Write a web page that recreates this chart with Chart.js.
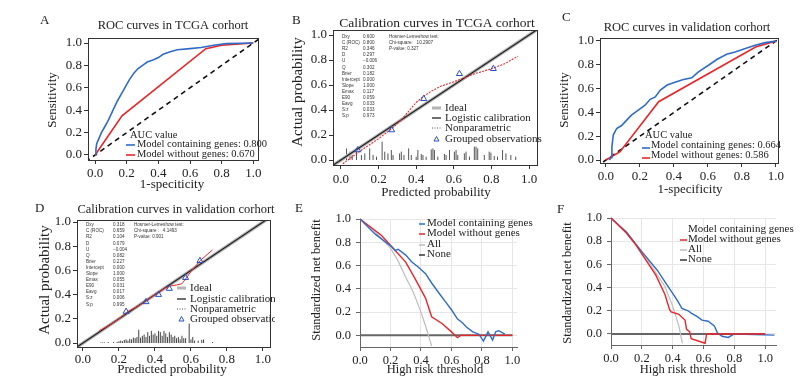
<!DOCTYPE html>
<html>
<head>
<meta charset="utf-8">
<script src="https://cdn.jsdelivr.net/npm/chart.js"></script>
<style>
  body { margin: 0; background: #fff; }
  #wrap { position: relative; width: 804px; height: 391px; background: #fff; overflow: hidden; }
  #wrap canvas { position: absolute; }
</style>
</head>
<body>
<div id="wrap"></div>
<script>
// ---- data ----
const unitTicks = [0, 0.2, 0.4, 0.6, 0.8, 1.0];
const diagLine = [-0.06, 1.06];

// A: ROC in TCGA
const aGenesX = [0, 0.005, 0.01, 0.025, 0.04, 0.06, 0.08, 0.1, 0.12, 0.14, 0.16, 0.18, 0.2, 0.22, 0.245, 0.27, 0.3, 0.33, 0.37, 0.4, 0.43, 0.47, 0.52, 0.6, 0.67, 0.75, 0.83, 1];
const aGenesY = [0, 0.05, 0.1, 0.15, 0.2, 0.25, 0.3, 0.36, 0.42, 0.48, 0.53, 0.58, 0.63, 0.68, 0.73, 0.77, 0.8, 0.83, 0.85, 0.87, 0.9, 0.92, 0.94, 0.95, 0.96, 0.98, 0.995, 1];
const aBaseX = [0, 0.17, 0.7, 0.8, 1];
const aBaseY = [0, 0.35, 0.95, 0.98, 1];

// C: ROC in validation
const cGenesX = [0.02, 0.03, 0.035, 0.043, 0.063, 0.092, 0.122, 0.15, 0.19, 0.23, 0.26, 0.29, 0.32, 0.36, 0.41, 0.456, 0.505, 0.544, 0.603, 0.652, 0.71, 0.76, 0.82, 0.878, 0.937, 1];
const cGenesY = [0, 0.02, 0.11, 0.21, 0.265, 0.29, 0.335, 0.377, 0.42, 0.46, 0.51, 0.53, 0.587, 0.63, 0.656, 0.676, 0.69, 0.74, 0.796, 0.844, 0.888, 0.908, 0.936, 0.964, 0.986, 1];
const cBaseX = [0, 0.083, 0.31, 0.88, 1];
const cBaseY = [0, 0.07, 0.49, 0.95, 1];

// B: calibration in TCGA
const bSmoothX = [0.01, 0.1, 0.2, 0.27, 0.32, 0.36, 0.4, 0.44, 0.48, 0.53, 0.59, 0.66, 0.71, 0.8, 0.87, 0.94];
const bSmoothY = [-0.03, 0.07, 0.17, 0.25, 0.32, 0.39, 0.46, 0.51, 0.55, 0.59, 0.62, 0.66, 0.69, 0.73, 0.77, 0.83];
const bGroupX = [0.09, 0.27, 0.44, 0.63, 0.81];
const bGroupY = [0.08, 0.24, 0.49, 0.69, 0.73];
const bRugX = [0.03, 0.048, 0.06, 0.083, 0.109, 0.127, 0.153, 0.171, 0.189, 0.219, 0.233, 0.25, 0.268, 0.277, 0.312, 0.321, 0.335, 0.36, 0.374, 0.4, 0.409, 0.427, 0.436, 0.453, 0.48, 0.489, 0.497, 0.515, 0.55, 0.559, 0.577, 0.603, 0.612, 0.621, 0.656, 0.665, 0.683, 0.709, 0.718, 0.727, 0.762, 0.788, 0.797, 0.815, 0.832, 0.859, 0.877, 0.903, 0.929];
const bRugH = [0.093, 0.067, 0.04, 0.08, 0.04, 0.053, 0.093, 0.04, 0.027, 0.147, 0.067, 0.053, 0.08, 0.04, 0.053, 0.067, 0.04, 0.093, 0.04, 0.027, 0.08, 0.048, 0.04, 0.027, 0.085, 0.093, 0.08, 0.027, 0.048, 0.04, 0.08, 0.067, 0.08, 0.04, 0.053, 0.067, 0.027, 0.107, 0.107, 0.093, 0.04, 0.067, 0.059, 0.032, 0.027, 0.08, 0.053, 0.04, 0.027];
const statNames = ['Dxy', 'C (ROC)', 'R2', 'D', 'U', 'Q', 'Brier', 'Intercept', 'Slope', 'Emax', 'E90', 'Eavg', 'S:z', 'S:p'];
const bStatVals = ['0.600', '0.800', '0.346', '0.297', '\u22120.006', '0.302', '0.182', '0.000', '1.000', '0.117', '0.059', '0.033', '0.033', '0.973'];
const bHosmer = ['Hosmer-Lemeshow test:', 'Chi-square:   10.2907', 'P-value: 0.327'];

// D: calibration in validation
const dSmoothX = [0.09, 0.15, 0.2, 0.25, 0.3, 0.35, 0.4, 0.45, 0.48, 0.52, 0.55, 0.57, 0.6, 0.65, 0.72];
const dSmoothY = [0.1, 0.15, 0.2, 0.26, 0.3, 0.35, 0.4, 0.45, 0.47, 0.48, 0.49, 0.53, 0.59, 0.68, 0.77];
const dGroupX = [0.24, 0.35, 0.42, 0.48, 0.57, 0.65];
const dGroupY = [0.26, 0.34, 0.40, 0.45, 0.54, 0.68];
const dRugX = [0.10, 0.11, 0.12, 0.14, 0.17, 0.19, 0.2, 0.21, 0.22, 0.23, 0.24, 0.25, 0.26, 0.27, 0.28, 0.29, 0.30, 0.31, 0.32, 0.33, 0.34, 0.35, 0.36, 0.37, 0.38, 0.39, 0.40, 0.41, 0.42, 0.43, 0.44, 0.45, 0.46, 0.47, 0.48, 0.49, 0.50, 0.51, 0.52, 0.53, 0.54, 0.55, 0.56, 0.57, 0.59, 0.6, 0.61, 0.62, 0.64, 0.66, 0.67, 0.72];
const dRugH = [0.005, 0.005, 0.005, 0.008, 0.008, 0.01, 0.015, 0.02, 0.015, 0.025, 0.03, 0.02, 0.035, 0.03, 0.045, 0.04, 0.05, 0.11, 0.045, 0.06, 0.07, 0.05, 0.09, 0.06, 0.1, 0.07, 0.08, 0.06, 0.1, 0.09, 0.06, 0.1, 0.08, 0.05, 0.09, 0.07, 0.05, 0.06, 0.04, 0.05, 0.03, 0.06, 0.04, 0.04, 0.16, 0.03, 0.05, 0.02, 0.02, 0.025, 0.03, 0.008];
const dStatVals = ['0.318', '0.659', '0.104', '0.079', '\u22120.004', '0.082', '0.227', '0.000', '1.000', '0.055', '0.031', '0.017', '0.006', '0.995'];
const dHosmer = ['Hosmer-Lemeshow test:', 'Chi-square :   4.1493', 'P-value: 0.901'];

// E: decision curves in TCGA
const eGenesX = [0, 0.1, 0.21, 0.23, 0.25, 0.3, 0.34, 0.38, 0.43, 0.47, 0.52, 0.56, 0.6, 0.64, 0.67, 0.7, 0.74, 0.78, 0.81, 0.84, 0.87, 0.89, 0.91, 0.95];
const eGenesY = [1, 0.87, 0.76, 0.73, 0.74, 0.69, 0.63, 0.59, 0.53, 0.45, 0.36, 0.29, 0.22, 0.14, 0.11, 0.07, 0.03, 0.01, -0.05, 0.03, -0.04, 0.03, 0.04, 0.01];
const eBaseX = [0, 0.14, 0.21, 0.3, 0.36, 0.43, 0.47, 0.54, 0.6, 0.64, 0.66, 1.0];
const eBaseY = [1, 0.86, 0.76, 0.63, 0.49, 0.32, 0.16, 0.1, 0.03, -0.02, 0, 0];
const eAllX = [0, 0.1, 0.2, 0.25, 0.3, 0.35, 0.4, 0.43, 0.47];
const eAllY = [1, 0.89, 0.75, 0.64, 0.5, 0.37, 0.2, 0.08, -0.09];
const noneX = [0, 1.0];
const noneY = [0, 0];

// F: decision curves in validation
const fGenesX = [0, 0.1, 0.2, 0.3, 0.35, 0.4, 0.43, 0.46, 0.5, 0.52, 0.56, 0.59, 0.63, 0.67, 0.69, 0.72, 0.76, 0.8, 1.06];
const fGenesY = [1, 0.88, 0.71, 0.55, 0.45, 0.35, 0.29, 0.22, 0.2, 0.18, 0.15, 0.12, 0.11, 0.07, 0.01, -0.02, -0.03, 0, -0.01];
const fBaseX = [0, 0.1, 0.16, 0.22, 0.29, 0.35, 0.38, 0.39, 0.44, 0.48, 0.49, 0.51, 0.52, 0.61, 0.62, 1.0];
const fBaseY = [1, 0.87, 0.77, 0.65, 0.51, 0.34, 0.21, 0.19, 0.17, 0.12, 0.04, 0.02, -0.04, -0.08, 0, 0];
const fAllX = [0, 0.1, 0.22, 0.35, 0.4, 0.44, 0.463];
const fAllY = [1, 0.87, 0.67, 0.41, 0.24, 0.07, -0.08];

// ---- styles ----
const BLUE = '#2f6cc8';
const RED = '#e8262a';
const TRI = '#2a4fc4';
const INK = '#222';
const SERIF = '"Liberation Serif", "DejaVu Serif", serif';
const SANS = '"Liberation Sans Narrow", "Liberation Sans", Arial, sans-serif';

Chart.defaults.font.family = SERIF;
Chart.defaults.color = INK;

function pts(xs, ys) {
    return xs.map((x, i) => ({ x: x, y: ys[i] }));
}

function line(xs, ys, color, width, dash, order) {
    return {
        data: pts(xs, ys), showLine: true, borderColor: color, borderWidth: width,
        borderDash: dash || [], pointRadius: 0, tension: 0, order: order || 0, clip: false
    };
}

function spikes(xs, hs, color) {
    const data = [];
    for (let i = 0; i < xs.length; i++) {
        data.push({ x: xs[i], y: 0 });
        data.push({ x: xs[i], y: hs[i] });
        data.push({ x: xs[i], y: null });
    }
    return { data: data, showLine: true, spanGaps: false, borderColor: color, borderWidth: 1, pointRadius: 0, order: 5 };
}

function triangles(xs, ys) {
    return {
        data: pts(xs, ys), showLine: false, pointStyle: 'triangle', pointRadius: 3.5,
        borderColor: TRI, backgroundColor: 'rgba(0,0,0,0)', borderWidth: 1, order: 0
    };
}

// draws panel letters, titles, axis titles, legends and stats text
const textPlugin = {
    id: 'texts',
    afterDraw(chart) {
        const items = chart.options.plugins.texts.items || [];
        const ox = chart.options.plugins.texts.ox;
        const oy = chart.options.plugins.texts.oy;
        const ctx = chart.ctx;
        ctx.save();
        items.forEach(it => {
            const x = it.x - ox, y = it.y - oy;
            if (it.kind === 'line') {
                ctx.beginPath();
                ctx.strokeStyle = it.color;
                ctx.lineWidth = it.w || 1.5;
                ctx.setLineDash(it.dash || []);
                ctx.moveTo(x, y);
                ctx.lineTo(it.x2 - ox, y);
                ctx.stroke();
                ctx.setLineDash([]);
                return;
            }
            if (it.kind === 'tri') {
                ctx.beginPath();
                ctx.strokeStyle = TRI;
                ctx.lineWidth = 1;
                ctx.moveTo(x, y - 2.5);
                ctx.lineTo(x + 2.5, y + 2);
                ctx.lineTo(x - 2.5, y + 2);
                ctx.closePath();
                ctx.stroke();
                return;
            }
            ctx.save();
            ctx.fillStyle = it.color || INK;
            ctx.font = (it.size || 12) + 'px ' + (it.fam || SERIF);
            ctx.textAlign = it.align || 'left';
            ctx.textBaseline = 'middle';
            ctx.translate(x, y);
            if (it.rot) ctx.rotate(-Math.PI / 2);
            ctx.fillText(it.t, 0, 0);
            ctx.restore();
        });
        ctx.restore();
    }
};

const framePlugin = {
    id: 'frame',
    afterDatasetsDraw(chart) {
        if (!chart.options.plugins.frame.on) return;
        const a = chart.chartArea, ctx = chart.ctx;
        ctx.save();
        ctx.strokeStyle = '#333';
        ctx.lineWidth = 1;
        ctx.strokeRect(Math.round(a.left) + 0.5, Math.round(a.top) + 0.5, Math.round(a.right - a.left), Math.round(a.bottom - a.top));
        ctx.restore();
    }
};

const wrap = document.getElementById('wrap');

function makePanel(cfg) {
    const [bx, by, bw, bh] = cfg.box;
    const [al, at, ar, ab] = cfg.area;
    const canvas = document.createElement('canvas');
    canvas.width = bw;
    canvas.height = bh;
    canvas.style.left = bx + 'px';
    canvas.style.top = by + 'px';
    wrap.appendChild(canvas);

    const dca = !!cfg.dca;
    const tickFont = { family: SERIF, size: cfg.tickSize || 13 };
    const axisCommon = {
        type: 'linear',
        border: { display: true, color: dca ? '#666' : '#333', width: 1 },
        grid: {
            display: true, drawOnChartArea: dca, color: '#e6e6e6',
            drawTicks: true, tickLength: 4, tickColor: dca ? '#666' : '#333'
        }
    };

    new Chart(canvas, {
        type: 'scatter',
        data: { datasets: cfg.datasets },
        options: {
            responsive: false,
            animation: false,
            devicePixelRatio: 1,
            layout: { padding: { top: at - by, right: bx + bw - ar, left: 0, bottom: 0 } },
            plugins: {
                legend: { display: false },
                tooltip: { enabled: false },
                frame: { on: !dca },
                texts: { items: cfg.texts, ox: bx, oy: by }
            },
            scales: {
                x: Object.assign({}, axisCommon, {
                    min: cfg.xr[0], max: cfg.xr[1],
                    afterFit: s => { s.height = by + bh - ab; },
                    afterBuildTicks: s => { s.ticks = unitTicks.map(v => ({ value: v })); },
                    ticks: { font: tickFont, color: INK, padding: cfg.xPad, maxRotation: 0, autoSkip: false, callback: v => v.toFixed(1) }
                }),
                y: Object.assign({}, axisCommon, {
                    min: cfg.yr[0], max: cfg.yr[1],
                    afterFit: s => { s.width = al - bx; },
                    afterBuildTicks: s => { s.ticks = unitTicks.map(v => ({ value: v })); },
                    ticks: { font: tickFont, color: INK, padding: cfg.yPad, autoSkip: false, callback: v => v.toFixed(1) }
                })
            }
        },
        plugins: [framePlugin, textPlugin]
    });
}

function statsTexts(x0, x1, x2, y0, dy, vals, hosmer) {
    const out = [];
    statNames.forEach((n, i) => {
        out.push({ t: n, x: x0, y: y0 + i * dy, size: 4.6, fam: SANS, color: '#333' });
        out.push({ t: vals[i], x: x1, y: y0 + i * dy, size: 4.6, fam: SANS, color: '#333' });
    });
    hosmer.forEach((h, i) => {
        out.push({ t: h, x: x2, y: y0 + i * dy, size: 4.6, fam: SANS, color: '#333' });
    });
    return out;
}

function calLegend(sx, tx, ys) {
    return [
        { kind: 'line', x: sx, x2: sx + 9, y: ys[0], color: '#b5b5b5', w: 3 },
        { t: 'Ideal', x: tx, y: ys[0], size: 11 },
        { kind: 'line', x: sx, x2: sx + 9, y: ys[1], color: '#222', w: 1.3 },
        { t: 'Logistic calibration', x: tx, y: ys[1], size: 11 },
        { kind: 'line', x: sx, x2: sx + 9, y: ys[2], color: '#555', w: 1, dash: [1, 1.5] },
        { t: 'Nonparametric', x: tx, y: ys[2], size: 11 },
        { kind: 'tri', x: sx + 4.5, y: ys[3] },
        { t: 'Grouped observations', x: tx, y: ys[3], size: 11 }
    ];
}

// ---- A ----
makePanel({
    box: [0, 0, 268, 200], area: [88, 38, 258, 160],
    xr: [-0.045, 1.03], yr: [-0.045, 1.045], xPad: 2, yPad: 2,
    datasets: [
        line(aGenesX, aGenesY, BLUE, 1.6, null, 1),
        line(aBaseX, aBaseY, RED, 1.6, null, 2),
        Object.assign(line(diagLine, diagLine, '#111', 1.6, [5, 4], 3), { clip: 0 })
    ],
    texts: [
        { t: 'A', x: 40, y: 21, size: 13 },
        { t: 'ROC curves in TCGA corhort', x: 173, y: 26, size: 12.5, align: 'center' },
        { t: 'Sensitivity', x: 53, y: 100, size: 13, align: 'center', rot: true },
        { t: '1-speciticity', x: 172, y: 185, size: 13, align: 'center' },
        { t: 'AUC value', x: 130, y: 135, size: 10.5 },
        { kind: 'line', x: 126, x2: 135, y: 145, color: BLUE, w: 1.6 },
        { t: 'Model containing genes: 0.800', x: 137, y: 144, size: 10.5 },
        { kind: 'line', x: 126, x2: 135, y: 155, color: RED, w: 1.6 },
        { t: 'Model without genes: 0.670', x: 137, y: 154, size: 10.5 }
    ]
});

// ---- B ----
makePanel({
    box: [268, 0, 274, 200], area: [333, 30, 538, 165],
    xr: [-0.042, 1.042], yr: [-0.04, 1.04], xPad: 3, yPad: 2,
    datasets: [
        triangles(bGroupX, bGroupY),
        line(bSmoothX, bSmoothY, RED, 1.1, [2, 1.2], 1),
        Object.assign(line(diagLine, diagLine, '#222', 1.2, null, 2), { clip: 0 }),
        Object.assign(line(diagLine, diagLine, '#b5b5b5', 3.5, null, 3), { clip: 0 }),
        spikes(bRugX, bRugH, '#555')
    ],
    texts: [
        { t: 'B', x: 292, y: 21, size: 13 },
        { t: 'Calibration curves in TCGA corhort', x: 437, y: 23, size: 13.5, align: 'center' },
        { t: 'Actual probability', x: 298, y: 92, size: 15, align: 'center', rot: true },
        { t: 'Predicted probability', x: 436, y: 193, size: 13, align: 'center' }
    ].concat(statsTexts(342, 363, 389, 37, 6.05, bStatVals, bHosmer), calLegend(432, 445, [108, 118, 128, 139]))
});

// ---- C ----
makePanel({
    box: [540, 0, 264, 200], area: [600, 38, 778, 163],
    xr: [-0.035, 1.012], yr: [-0.025, 1.025], xPad: 2, yPad: 2,
    datasets: [
        line(cGenesX, cGenesY, BLUE, 1.6, null, 1),
        line(cBaseX, cBaseY, RED, 1.6, null, 2),
        Object.assign(line(diagLine, diagLine, '#111', 1.6, [5, 4], 3), { clip: 0 })
    ],
    texts: [
        { t: 'C', x: 562, y: 18, size: 13 },
        { t: 'ROC curves in validation corhort', x: 687, y: 28, size: 12.5, align: 'center' },
        { t: 'Sensitivity', x: 565, y: 100, size: 13, align: 'center', rot: true },
        { t: '1-specificity', x: 690, y: 190, size: 13, align: 'center' },
        { t: 'AUC value', x: 645, y: 135, size: 10.5 },
        { kind: 'line', x: 642, x2: 650, y: 148, color: BLUE, w: 1.6 },
        { t: 'Model containing genes: 0.664', x: 651, y: 145, size: 10.5 },
        { kind: 'line', x: 642, x2: 650, y: 158, color: RED, w: 1.6 },
        { t: 'Model without genes: 0.586', x: 651, y: 155, size: 10.5 }
    ]
});

// ---- D ----
makePanel({
    box: [0, 195, 275, 196], area: [77, 220, 270, 347],
    xr: [-0.033, 1.039], yr: [-0.033, 1.017], xPad: 1, yPad: 2,
    datasets: [
        triangles(dGroupX, dGroupY),
        line(dSmoothX, dSmoothY, RED, 1, null, 1),
        Object.assign(line(diagLine, diagLine, '#222', 1.2, null, 2), { clip: 0 }),
        Object.assign(line(diagLine, diagLine, '#b5b5b5', 3.5, null, 3), { clip: 0 }),
        spikes(dRugX, dRugH, '#444')
    ],
    texts: [
        { t: 'D', x: 35, y: 209, size: 13 },
        { t: 'Calibration curves in validation corhort', x: 176, y: 210, size: 12.5, align: 'center' },
        { t: 'Actual probability', x: 45, y: 280, size: 15, align: 'center', rot: true },
        { t: 'Predicted probability', x: 172, y: 370, size: 13, align: 'center' }
    ].concat(statsTexts(86, 113, 134, 225, 6.1, dStatVals, dHosmer), calLegend(177, 190, [288, 299, 309, 319]))
});

// ---- E ----
makePanel({
    dca: true, tickSize: 12.5,
    box: [275, 195, 265, 196], area: [360, 219, 517, 347],
    xr: [0, 1.03], yr: [-0.1, 1.0], xPad: 2, yPad: 5,
    datasets: [
        line(eGenesX, eGenesY, BLUE, 1.4, null, 1),
        line(eBaseX, eBaseY, RED, 1.4, null, 2),
        line(eAllX, eAllY, '#bdbdbd', 1.2, null, 3),
        line(noneX, noneY, '#666', 2, null, 4)
    ],
    texts: [
        { t: 'E', x: 295, y: 209, size: 13 },
        { t: 'Standardized net benefit', x: 317, y: 280, size: 12.5, align: 'center', rot: true },
        { t: 'High risk threshold', x: 435, y: 370, size: 12.5, align: 'center' },
        { kind: 'line', x: 419, x2: 425, y: 224, color: BLUE, w: 1.5 },
        { t: 'Model containing genes', x: 427, y: 223, size: 11 },
        { kind: 'line', x: 419, x2: 425, y: 234, color: RED, w: 1.5 },
        { t: 'Model without genes', x: 427, y: 233, size: 11 },
        { kind: 'line', x: 419, x2: 425, y: 245, color: '#bdbdbd', w: 1.5 },
        { t: 'All', x: 427, y: 244, size: 11 },
        { kind: 'line', x: 419, x2: 425, y: 255, color: '#333', w: 1.5 },
        { t: 'None', x: 427, y: 254, size: 11 }
    ]
});

// ---- F ----
makePanel({
    dca: true, tickSize: 12.5,
    box: [540, 195, 264, 196], area: [611, 218, 776, 345],
    xr: [0, 1.07], yr: [-0.095, 1.0], xPad: 2, yPad: 5,
    datasets: [
        line(fBaseX, fBaseY, RED, 1.4, null, 1),
        line(fGenesX, fGenesY, BLUE, 1.4, null, 2),
        line(fAllX, fAllY, '#bdbdbd', 1.2, null, 3),
        line(noneX, noneY, '#666', 2, null, 4)
    ],
    texts: [
        { t: 'F', x: 557, y: 210, size: 13 },
        { t: 'Standardized net benefit', x: 568, y: 283, size: 12.5, align: 'center', rot: true },
        { t: 'High risk threshold', x: 688, y: 370, size: 12.5, align: 'center' },
        { t: 'Model containing genes', x: 688, y: 229, size: 11 },
        { kind: 'line', x: 680, x2: 687, y: 240, color: RED, w: 1.5 },
        { t: 'Model without genes', x: 688, y: 239, size: 11 },
        { kind: 'line', x: 680, x2: 687, y: 250, color: '#bdbdbd', w: 1.5 },
        { t: 'All', x: 688, y: 249, size: 11 },
        { kind: 'line', x: 680, x2: 687, y: 260, color: '#333', w: 1.5 },
        { t: 'None', x: 688, y: 259, size: 11 }
    ]
});
</script>
</body>
</html>
